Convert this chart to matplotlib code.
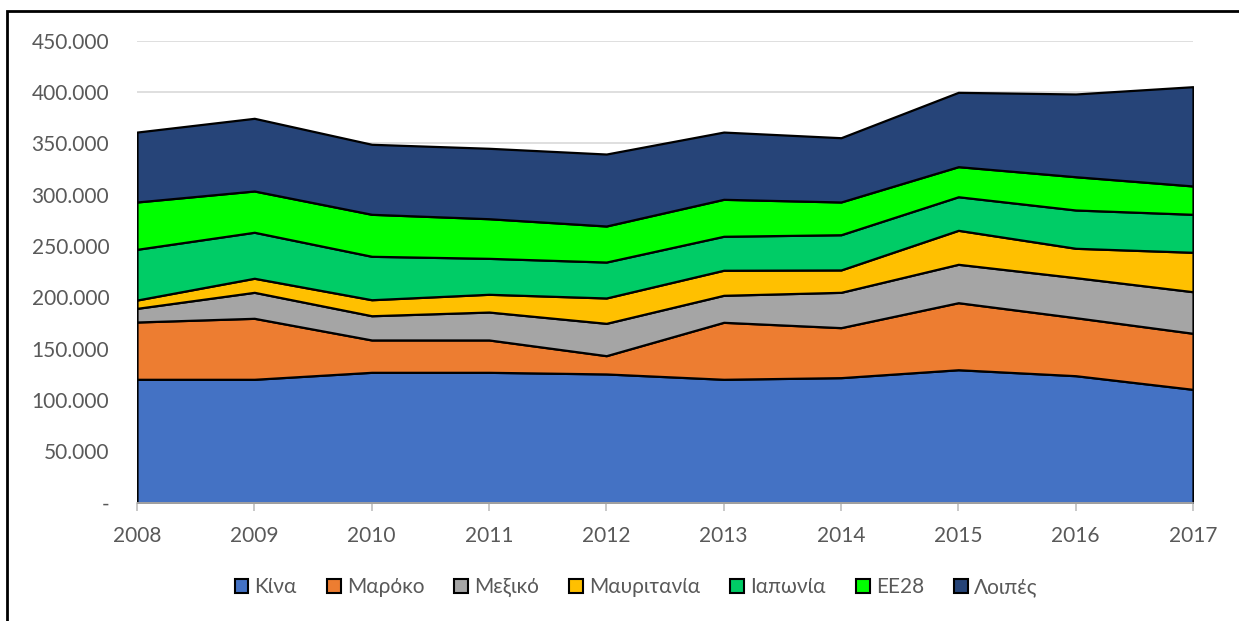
import matplotlib
matplotlib.use("Agg")
import matplotlib.pyplot as plt
from matplotlib.patches import Rectangle, Patch
from matplotlib.ticker import FuncFormatter

plt.rcParams['font.family'] = ['Lato', 'Noto Sans', 'DejaVu Sans']

years = [2008, 2009, 2010, 2011, 2012, 2013, 2014, 2015, 2016, 2017]
labels = ['Κίνα', 'Μαρόκο', 'Μεξικό', 'Μαυριτανία', 'Ιαπωνία', 'ΕΕ28', 'Λοιπές']
kina = [120200, 120200, 127000, 127000, 125400, 120200, 121800, 129500, 123700, 110400]
maroko = [55800, 59400, 31500, 31500, 17800, 55500, 48700, 65300, 56500, 54600]
mexiko = [13300, 25300, 23600, 27200, 31500, 26300, 34400, 37400, 39000, 40500]
mavritania = [8100, 13700, 15600, 17300, 24700, 24400, 21800, 33100, 28600, 38400]
iaponia = [49400, 44800, 42300, 35000, 35000, 33100, 34300, 32700, 37300, 37000]
ee28 = [46100, 40200, 40900, 38600, 35100, 36000, 31900, 29300, 32400, 27600]
loipes = [68100, 70800, 68200, 68600, 70100, 65500, 62600, 72400, 80600, 96700]
series = [kina, maroko, mexiko, mavritania, iaponia, ee28, loipes]
colors = ['#4472C4', '#ED7D31', '#A5A5A5', '#FFC000', '#00CC66', '#00FF00', '#264478']

fig = plt.figure(figsize=(12.39, 6.21), dpi=100)
ax = fig.add_axes([137/1239, 1-502.7/621, (1193-137)/1239, (502.7-40.7)/621])

polys = ax.stackplot(years, *series, colors=colors, labels=labels,
                     edgecolor='black', linewidth=1.6)

ax.set_xlim(2008, 2017)
ax.set_ylim(0, 450000)
ax.set_yticks(range(0, 450001, 50000))
ax.set_xticks(years)

def fmt(v, pos):
    if v == 0:
        return '-'
    return f'{int(v):,}'.replace(',', '.')
ax.yaxis.set_major_formatter(FuncFormatter(fmt))

ax.grid(axis='y', color='#D9D9D9', linewidth=1.2)
ax.set_axisbelow(True)
for s in ['top', 'right', 'left']:
    ax.spines[s].set_visible(False)
ax.spines['bottom'].set_color('#BFBFBF')
ax.spines['bottom'].set_linewidth(1.2)
ax.tick_params(axis='y', length=0, pad=20, labelsize=15, labelcolor='#595959')
ax.tick_params(axis='x', length=6, color='#BFBFBF', width=1.2, pad=11,
               labelsize=15, labelcolor='#595959')

handles = [Patch(facecolor=c, edgecolor='black', linewidth=1.5) for c in colors]
leg = fig.legend(handles, labels, loc='center', bbox_to_anchor=(636/1239, 1-587/621),
                 ncol=7, frameon=False, fontsize=15, labelcolor='#595959',
                 handlelength=0.65, handleheight=0.65, handletextpad=0.3,
                 columnspacing=1.45)

fig.patches.append(Rectangle((7/1239, -0.5), 2, 1.5 - 11/621, transform=fig.transFigure,
                             fill=False, edgecolor='black', linewidth=2))

fig.savefig('out.png', dpi=100, facecolor='white')
